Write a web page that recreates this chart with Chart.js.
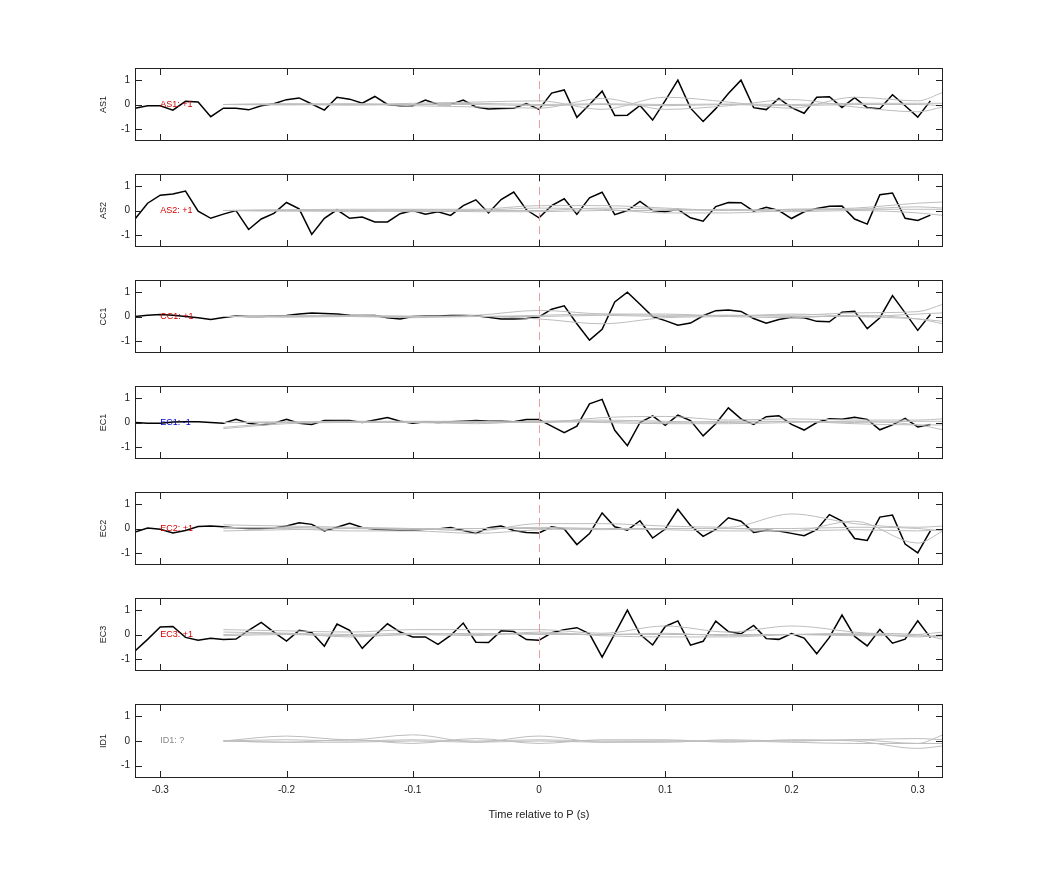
<!DOCTYPE html>
<html><head><meta charset="utf-8">
<script src="https://cdn.jsdelivr.net/npm/chart.js@4"></script>
<style>body{margin:0;background:#fff;width:1042px;height:875px;position:relative;overflow:hidden}canvas{position:absolute;left:0}</style>
</head><body>
<script>
const TIMES = [-0.32,-0.31,-0.30,-0.29,-0.28,-0.27,-0.26,-0.25,-0.24,-0.23,-0.22,-0.21,-0.20,-0.19,-0.18,-0.17,-0.16,-0.15,-0.14,-0.13,-0.12,-0.11,-0.10,-0.09,-0.08,-0.07,-0.06,-0.05,-0.04,-0.03,-0.02,-0.01,0.00,0.01,0.02,0.03,0.04,0.05,0.06,0.07,0.08,0.09,0.10,0.11,0.12,0.13,0.14,0.15,0.16,0.17,0.18,0.19,0.20,0.21,0.22,0.23,0.24,0.25,0.26,0.27,0.28,0.29,0.30,0.31];
const GX = [-0.25,-0.20,-0.15,-0.10,-0.05,0.00,0.05,0.10,0.15,0.20,0.25,0.30,0.32];
const STATIONS = ["AS1","AS2","CC1","EC1","EC2","EC3","ID1"];
const STATION_LABELS = ["AS1: +1","AS2: +1","CC1: +1","EC1: -1","EC2: +1","EC3: +1","ID1: ?"];
const LABEL_COLORS = ["#d40000","#d40000","#d40000","#0000d0","#d40000","#d40000","#888888"];
const X_TICKS = [-0.3,-0.2,-0.1,0,0.1,0.2,0.3];
const Y_TICKS = [-1,0,1];

const AS1 = [-0.15,-0.05,-0.05,-0.23,0.13,0.1,-0.5,-0.15,-0.15,-0.22,-0.05,0.03,0.2,0.27,0.02,-0.23,0.3,0.22,0.05,0.33,0,-0.05,-0.05,0.18,0,0,0.18,-0.1,-0.18,-0.16,-0.15,0.04,-0.2,0.47,0.6,-0.53,0,0.55,-0.45,-0.44,-0.04,-0.64,0.16,1.0,-0.15,-0.7,-0.17,0.45,1.0,-0.13,-0.21,0.25,-0.13,-0.36,0.3,0.32,-0.12,0.28,-0.13,-0.17,0.4,-0.05,-0.52,0.15];
const AS2 = [-0.35,0.3,0.63,0.68,0.8,-0.03,-0.32,-0.15,0,-0.78,-0.35,-0.12,0.33,0.07,-0.98,-0.32,0.03,-0.32,-0.27,-0.47,-0.47,-0.13,0,-0.15,-0.05,-0.2,0.2,0.44,-0.1,0.45,0.76,0.03,-0.3,0.2,0.48,-0.16,0.52,0.75,-0.17,0,0.37,0,-0.05,0.05,-0.3,-0.44,0.16,0.33,0.32,-0.03,0.13,0,-0.33,-0.05,0.08,0.17,0.18,-0.35,-0.56,0.65,0.72,-0.32,-0.41,-0.19];
const CC1 = [0,0.05,0.08,0.05,0,-0.05,-0.12,-0.04,0.02,0,0,0.02,0.04,0.1,0.14,0.12,0.1,0.05,0.04,0.04,-0.05,-0.1,0,0.02,0.02,0.04,0.04,0.03,-0.03,-0.1,-0.1,-0.08,-0.02,0.3,0.44,-0.3,-0.97,-0.53,0.6,1.0,0.5,0,-0.17,-0.36,-0.27,0.03,0.24,0.27,0.21,-0.08,-0.28,-0.12,-0.03,-0.05,-0.2,-0.22,0.18,0.21,-0.5,-0.05,0.86,0.15,-0.57,0.08];
const EC1 = [0,-0.03,-0.03,0.02,0.03,0.03,0,-0.03,0.13,-0.03,-0.1,-0.03,0.13,-0.03,-0.08,0.08,0.08,0.08,0,0.1,0.2,0.05,-0.03,0.03,0,0.03,0.05,0.08,0.05,0.05,0.03,0.12,0.12,-0.15,-0.42,-0.15,0.77,0.95,-0.32,-0.95,0,0.27,-0.12,0.3,0.08,-0.55,-0.05,0.6,0.15,-0.08,0.24,0.28,-0.08,-0.31,0,0.15,0.13,0.22,0.13,-0.3,-0.1,0.17,-0.18,-0.08];
const EC2 = [-0.15,0.02,-0.03,-0.18,-0.08,0.08,0.1,0.07,0.02,0,0,0.02,0.1,0.24,0.17,-0.1,0.05,0.21,0.04,-0.03,-0.05,-0.07,-0.07,-0.03,-0.02,0.04,-0.08,-0.2,0.03,0.1,-0.08,-0.16,-0.18,0.07,-0.02,-0.66,-0.21,0.64,0.07,-0.07,0.32,-0.39,-0.02,0.79,0.12,-0.32,-0.04,0.44,0.3,-0.16,-0.07,-0.1,-0.2,-0.3,-0.05,0.57,0.3,-0.41,-0.49,0.47,0.55,-0.64,-1.0,-0.1];
const EC3 = [-0.68,-0.2,0.31,0.33,-0.12,-0.24,-0.15,-0.21,-0.19,0.17,0.5,0.1,-0.27,0.17,0.08,-0.48,0.43,0.17,-0.57,-0.04,0.44,0.1,-0.1,-0.1,-0.41,-0.04,0.47,-0.32,-0.33,0.15,0.12,-0.21,-0.24,0.07,0.2,0.28,0.03,-0.93,0.03,1.0,0.01,-0.43,0.33,0.56,-0.44,-0.28,0.55,0.12,0.03,0.37,-0.17,-0.2,0.04,-0.15,-0.79,-0.12,0.8,-0.08,-0.47,0.21,-0.36,-0.19,0.56,-0.13];

const GRAY_AS1 = [[0,0.02,0,0.05,0.1,0.15,-0.2,0.3,0.1,-0.15,0.3,0.15,0.5],[0,-0.02,0.03,-0.05,-0.1,-0.15,0.25,-0.2,-0.05,0.2,-0.1,-0.3,-0.1],[0,0.03,0.02,0,0.05,0,0.03,0,0.02,0,0.05,0.05,0.05],[0,0,-0.03,0,0,-0.05,0,-0.05,0,-0.05,0,0,-0.05]];
const GRAY_AS2 = [[0,0.03,0.05,0.05,0.05,0.2,0.2,0.1,0,0.05,0.1,0.3,0.35],[0,-0.03,0,-0.05,0,0.1,0.05,-0.1,-0.1,0,0.05,0.15,0.1],[0,0,-0.05,0,-0.05,-0.05,0,0,0.05,-0.05,0,-0.1,-0.2],[0,0.02,0,0.03,0,0,0.1,0.05,0,0.05,0.05,0.05,0.05]];
const GRAY_CC1 = [[0,0.03,0.05,0,0.05,0.25,0.1,0.05,0.05,0.05,0.15,0.2,0.5],[0,-0.03,0,-0.05,0,-0.1,-0.3,-0.05,0,0.1,0,-0.1,-0.2],[0,0,0.03,0,0,0.05,0.1,0.1,0,-0.05,0.05,-0.1,-0.3],[0,0.02,0,0.02,0,0,0.05,0,0.05,0,0,0.1,0.15]];
const GRAY_EC1 = [[-0.2,0,0.05,0.05,0.05,0,0.2,0.25,0.1,0.15,0.1,0.1,0.15],[-0.25,-0.05,0,0,-0.05,0.05,0,-0.05,-0.05,0,0.05,-0.1,-0.3],[0,0.03,0,0.03,0,0.05,0.1,0.05,0,0.05,-0.05,-0.1,-0.1],[0,0,0.03,0,0.03,0,0.05,0,0.05,0.05,0,0.05,0.05]];
const GRAY_EC2 = [[0.15,0.1,0.05,0,-0.1,0.2,0.2,0.1,0.05,0.6,0.2,0.05,0.1],[0.05,0,-0.1,-0.1,-0.2,-0.05,0,-0.05,-0.1,-0.1,0.3,-0.6,-0.1],[0,0.05,0,0,0,0.05,0,0,0,0,0.05,0,-0.1],[-0.1,-0.05,0,-0.05,0,0,-0.05,0,0,-0.1,-0.05,-0.1,-0.05]];
const GRAY_EC3 = [[0.2,0.15,0.1,0.2,0.2,0.2,0.05,0.35,0.1,0.35,0.1,-0.1,0],[0.1,0.05,-0.1,0,-0.05,0.1,-0.05,-0.1,-0.1,0,0.05,0,-0.2],[0,0.05,0,0.05,0,0.05,0,0,0,0,-0.05,0,0.1],[-0.05,0,-0.05,0,0.05,0,0,0.05,-0.05,0,0,-0.05,-0.1]];
const GRAY_ID1 = [[0,0.2,0.05,0.25,-0.05,0.2,-0.05,-0.05,0.05,0,0.05,-0.1,0.25],[0,-0.05,0.05,-0.1,0.1,-0.1,0.05,0.05,-0.05,0.05,0,-0.3,-0.2],[0,0.05,0,0.05,0,0.05,0,0,0,0,0.05,0.1,0.05],[0,-0.05,-0.05,0,-0.05,0,-0.05,0,0,-0.05,-0.1,-0.1,-0.1]];

const BLACKS = [AS1,AS2,CC1,EC1,EC2,EC3,null];
const GRAYS = [GRAY_AS1,GRAY_AS2,GRAY_CC1,GRAY_EC1,GRAY_EC2,GRAY_EC3,GRAY_ID1];

const FONT = "'Liberation Sans', Arial, sans-serif";
const PLOT_L = 135, PLOT_R = 943, PLOT_H = 75, PAD = 10, YAXIS_W = 37;
const TOPS = [67,173,279,385,491,597,703];
const BOTTOM_EXTRA = 44;

const decor = {
  id:'decor',
  afterDatasetsDraw(chart, args, opts){
    const {ctx, chartArea:a, scales:{x,y}} = chart;
    ctx.save();
    if (opts.dash) {
      ctx.strokeStyle = '#e8a0a0'; ctx.lineWidth = 1; ctx.setLineDash([8,5]);
      const px = Math.round(x.getPixelForValue(0))+0.5;
      ctx.beginPath(); ctx.moveTo(px, a.top); ctx.lineTo(px, a.bottom); ctx.stroke();
      ctx.setLineDash([]);
    }
    ctx.strokeStyle = '#222'; ctx.lineWidth = 1;
    ctx.strokeRect(a.left+0.5, a.top+0.5, a.right-a.left-1, a.bottom-a.top-1);
    ctx.beginPath();
    X_TICKS.forEach(v=>{const p=Math.round(x.getPixelForValue(v))+0.5; ctx.moveTo(p,a.top); ctx.lineTo(p,a.top+7); ctx.moveTo(p,a.bottom); ctx.lineTo(p,a.bottom-7);});
    Y_TICKS.forEach(v=>{const p=Math.round(y.getPixelForValue(v))+0.5; ctx.moveTo(a.left,p); ctx.lineTo(a.left+7,p); ctx.moveTo(a.right,p); ctx.lineTo(a.right-7,p);});
    ctx.stroke();
    ctx.font = '9px ' + FONT; ctx.fillStyle = opts.color; ctx.textBaseline = 'middle';
    ctx.fillText(opts.label, x.getPixelForValue(-0.3), y.getPixelForValue(0));
    ctx.restore();
  }
};

STATIONS.forEach((st, i) => {
  const last = i === STATIONS.length - 1;
  const c = document.createElement('canvas');
  const h = PLOT_H + PAD*2 + (last ? BOTTOM_EXTRA : 0);
  c.width = 1042; c.height = h;
  c.style.top = (TOPS[i] - PAD) + 'px';
  c.style.width = '1042px'; c.style.height = h + 'px';
  document.body.appendChild(c);
  const datasets = GRAYS[i].map(g => ({data: GX.map((t,k)=>({x:t,y:g[k]})), borderColor:'#bdbdbd', borderWidth:1, pointRadius:0, cubicInterpolationMode:'monotone'}));
  if (BLACKS[i]) datasets.push({data: TIMES.map((t,k)=>({x:t,y:BLACKS[i][k]})), borderColor:'#000', borderWidth:1.5, pointRadius:0, tension:0});
  new Chart(c, {
    type:'line',
    data:{datasets},
    options:{
      responsive:false, animation:false, devicePixelRatio:1,
      layout:{padding:{left:PLOT_L-YAXIS_W,right:1042-PLOT_R,top:PAD,bottom:PAD}},
      plugins:{legend:{display:false}, tooltip:{enabled:false},
        decor:{dash:!last, label:STATION_LABELS[i], color:LABEL_COLORS[i]}},
      scales:{
        x:{type:'linear', min:-0.32, max:0.32, display:last,
          grid:{display:false, drawTicks:false}, border:{display:false},
          afterBuildTicks:s=>{s.ticks = X_TICKS.map(v=>({value:v}));},
          afterFit:s=>{s.height = last ? BOTTOM_EXTRA : 0;},
          ticks:{font:{size:10,family:FONT}, color:'#222', padding:6, maxRotation:0, callback:v=>String(v)},
          title:{display:true, text:'Time relative to P (s)', font:{size:11,family:FONT}, color:'#222', padding:{top:14,bottom:0}}},
        y:{min:-1.5, max:1.5,
          grid:{display:false, drawTicks:false}, border:{display:false},
          afterBuildTicks:s=>{s.ticks = Y_TICKS.map(v=>({value:v}));},
          afterFit:s=>{s.width = YAXIS_W;},
          ticks:{font:{size:10,family:FONT}, color:'#222', padding:5, callback:v=>String(v)},
          title:{display:true, text:st, font:{size:9,family:FONT}, color:'#222', padding:{top:0,bottom:0}}}
      }
    },
    plugins:[decor]
  });
});
</script>
</body></html>
